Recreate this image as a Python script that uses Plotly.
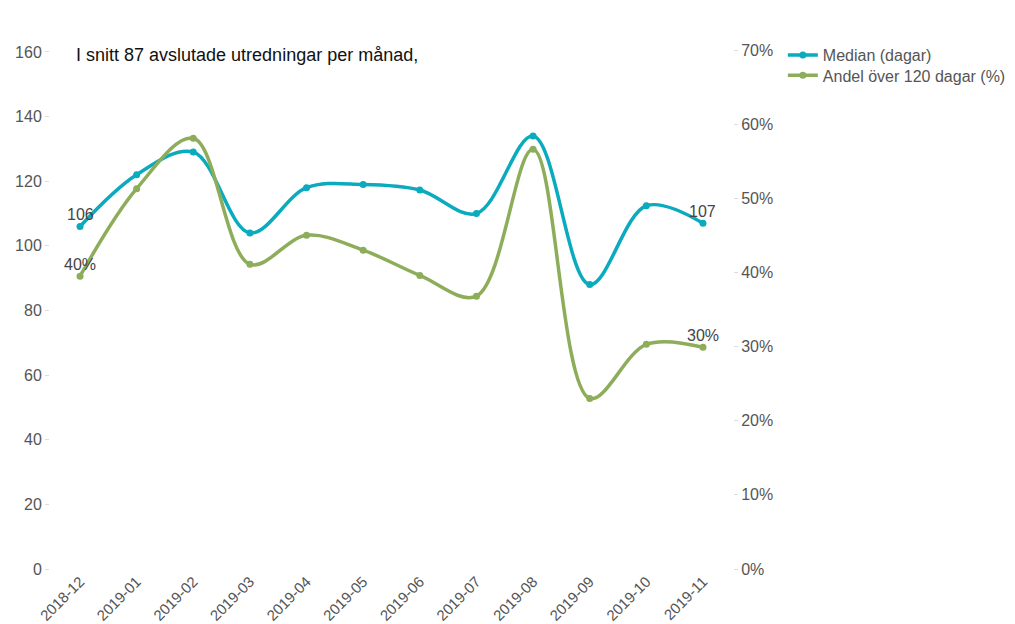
import plotly.graph_objects as go

months = ["2018-12", "2019-01", "2019-02", "2019-03", "2019-04", "2019-05",
          "2019-06", "2019-07", "2019-08", "2019-09", "2019-10", "2019-11"]
median_days = [106, 122, 129, 104, 118, 119, 117.3, 110, 134, 88, 112.4, 107]
share_over_120 = [0.395, 0.513, 0.581, 0.411, 0.450, 0.430, 0.396, 0.368, 0.566, 0.230, 0.303, 0.299]

median_labels = ["106", "107"]
share_labels = ["40%", "30%"]

teal = "#0AABBE"
green = "#8DAD5A"
font_family = "Liberation Sans, Arial, sans-serif"

fig = go.Figure()
fig.add_trace(go.Scatter(
    x=months, y=median_days, name="Median (dagar)", mode="lines+markers",
    line=dict(color=teal, width=3.5, shape="spline", smoothing=1.0),
    marker=dict(color=teal, size=7), yaxis="y", legend="legend"))
fig.add_trace(go.Scatter(
    x=months, y=share_over_120, name="Andel över 120 dagar (%)", mode="lines+markers",
    line=dict(color=green, width=3.5, shape="spline", smoothing=1.0),
    marker=dict(color=green, size=7), yaxis="y2", legend="legend2"))

# end-point data labels
for idx, lab in zip([0, len(months) - 1], median_labels):
    fig.add_annotation(x=months[idx], y=median_days[idx], xref="x", yref="y", text=lab,
                       showarrow=False, yanchor="bottom", yshift=1,
                       font=dict(size=16, color="#444444", family=font_family))
for idx, lab in zip([0, len(months) - 1], share_labels):
    fig.add_annotation(x=months[idx], y=share_over_120[idx], xref="x", yref="y2", text=lab,
                       showarrow=False, yanchor="bottom", yshift=1,
                       font=dict(size=16, color="#444444", family=font_family))

fig.add_annotation(text="I snitt 87 avslutade utredningar per månad,",
                   xref="paper", yref="paper", x=0.035, y=0.99, xanchor="left", yanchor="middle",
                   showarrow=False, font=dict(size=18, color="#111111", family=font_family))

legend_common = dict(xanchor="left", yanchor="middle", font=dict(size=16, color="#555555"),
                     itemwidth=30, bgcolor="rgba(0,0,0,0)")

fig.update_layout(
    width=1015, height=624,
    margin=dict(l=42, r=290, t=42, b=63, autoexpand=False),
    paper_bgcolor="white", plot_bgcolor="white",
    font=dict(family=font_family, color="#666666", size=16),
    showlegend=True,
    legend=dict(x=1.073, y=0.99, **legend_common),
    legend2=dict(x=1.073, y=0.951, **legend_common),
    xaxis=dict(type="category", range=[-0.53, 11.53], showgrid=False, zeroline=False,
               showline=False, tickangle=-45, tickfont=dict(size=15, color="#555555"),
               ticks="", automargin=False),
    yaxis=dict(range=[0, 160.6], tickvals=[0, 20, 40, 60, 80, 100, 120, 140, 160],
               showgrid=False, zeroline=False, showline=False, ticks="outside",
               ticklen=4, tickcolor="#dddddd", tickfont=dict(size=16, color="#555555"),
               automargin=False),
    yaxis2=dict(range=[0, 0.7], overlaying="y", side="right", tickformat=".0%",
                tickvals=[0, 0.1, 0.2, 0.3, 0.4, 0.5, 0.6, 0.7],
                showgrid=False, zeroline=False, showline=False, ticks="outside",
                ticklen=4, tickcolor="#dddddd", tickfont=dict(size=16, color="#555555"),
                automargin=False),
)

fig.write_html("out.html")
